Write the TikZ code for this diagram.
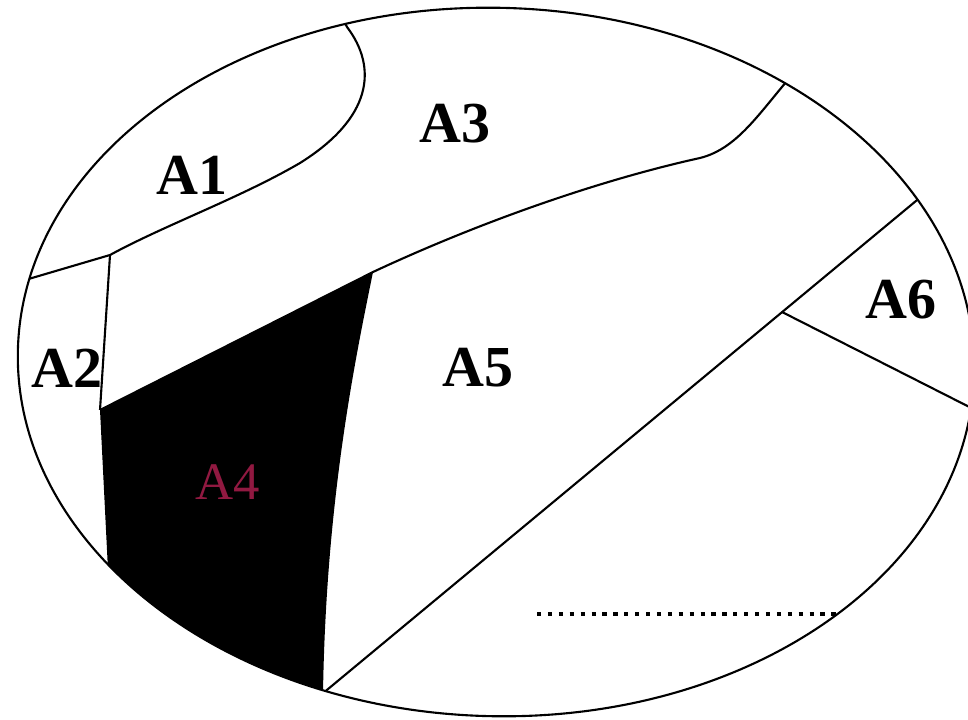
\documentclass[tikz,border=0pt]{standalone}
\usepackage{fontspec}
\setmainfont{Liberation Serif}
\usetikzlibrary{positioning}
\definecolor{areared}{RGB}{145,25,65}
\tikzset{
  border/.style={line width=0.6pt,color=black},
  arealbl/.style={font=\fontsize{16.5}{19}\selectfont\bfseries,inner sep=0pt},
  shadelbl/.style={font=\fontsize{15}{18}\selectfont,text=areared,inner sep=0pt},
  dotline/.style={line width=1.2pt,dash pattern=on 1.2pt off 1.9pt},
  outline/.style={x radius=4.78cm,y radius=3.54cm,rotate=-1.5}
}

\begin{document}
\begin{tikzpicture}[x=0.01cm,y=-0.01cm]
  \useasboundingbox (0,0) rectangle (968,719);
  \clip (0,0) rectangle (968,719);

  %% junction points (outer ends run past the outline and get clipped)
  \coordinate (ctr) at (496,362);
  \coordinate (top0) at (340,14);
  \coordinate (top1) at (347,27);
  \coordinate (top2) at (800,66);
  \coordinate (left1) at (15,283);
  \coordinate (jA) at (110,255);
  \coordinate (jL) at (100,410);
  \coordinate (jT) at (373,272);
  \coordinate (bot4) at (323,693);
  \coordinate (bot5) at (310,704);
  \coordinate (rt1) at (940,181);
  \coordinate (j6) at (782,312);
  \coordinate (rt2) at (995,420);
  \coordinate (dotL) at (537,614);
  \coordinate (dotR) at (870,614);

  \begin{scope}
    \clip (ctr) ellipse [outline];
    %% shaded area A4
    \fill[black] (jL) -- (jT) .. controls (355,360) and (326,500) .. (bot4)
      -- (323,760) -- (115,760) -- (109,590) -- cycle;
    %% borders
    \draw[border] (top0) -- (top1) .. controls (378,68) and (372,118) .. (300,163)
      .. controls (240,198) and (165,225) .. (jA) -- (left1);
    \draw[border] (jA) -- (jL);
    \draw[border] (jL) -- (jT) .. controls (480,222) and (600,180) .. (700,158)
      .. controls (740,148) and (762,108) .. (top2);
    \draw[border] (bot5) -- (rt1);
    \draw[border] (j6) -- (rt2);
    \draw[dotline] (dotL) -- (dotR);
  \end{scope}
  \draw[border] (ctr) ellipse [outline];

  %% labels
  \node[arealbl] (a1) at (192,175) {A1};
  \node[arealbl] (a2) at (67,368) {A2};
  \node[arealbl] (a3) at (455,124) {A3};
  \node[shadelbl] (a4) at (228,482) {A4};
  \node[arealbl] (a5) at (478,368) {A5};
  \node[arealbl] (a6) at (901,300) {A6};
\end{tikzpicture}
\end{document}
